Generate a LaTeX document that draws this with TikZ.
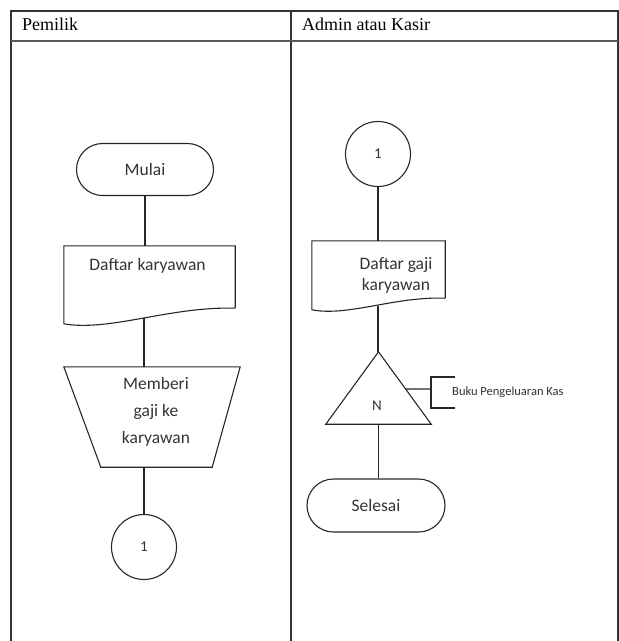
\documentclass[tikz,border=0pt]{standalone}
\usepackage{fontspec}
\setmainfont{Liberation Serif}
\newfontfamily\calib{Carlito}
\usetikzlibrary{shapes.misc,calc}
\begin{document}
\begin{tikzpicture}[x=1pt,y=-1pt,
  flowline/.style={draw=black!85, line width=1.1pt},
  frame/.style={draw=black!80, line width=1.6pt},
  head/.style={font=\fontsize{18}{20}\selectfont, text=black, inner sep=0pt, anchor=base west},
  lbl/.style={font=\calib\fontsize{17.5}{21}\selectfont, text=black!80, inner sep=0pt, align=center},
  term/.style={rounded rectangle, flowline, minimum width=137pt, minimum height=52pt, inner sep=0pt, lbl},
  conn/.style={circle, flowline, minimum size=65pt, inner sep=0pt, font=\calib\fontsize{15}{16}\selectfont, text=black!80},
  area/.style={inner sep=0pt, draw=none},
]
\useasboundingbox (0,0) rectangle (619,641);

% swimlane table
\draw[frame] (11,641) -- (11,11) -- (618,11) -- (618,641);
\draw[frame] (291,11) -- (291,641);
\draw[frame, draw=black!65] (11,41) -- (618,41);
\node[head] (hpemilik) at (22,30) {Pemilik};
\node[head] (hadmin) at (302,30) {Admin atau Kasir};

% owner lane
\node[term] (mulai) at (145,169.5) {Mulai};

\node[area, minimum width=171pt, minimum height=62pt] (dk) at (149.5,277) {};
\draw[flowline] (dk.south east) -- (dk.north east) -- (dk.north west) -- ++(0,78)
  .. controls +(46,8) and +(-65,-2) .. (dk.south east);
\node[lbl, anchor=base] (dkt) at (147.5,270) {Daftar karyawan};
\coordinate (dkb) at (144,318);

\node[area, minimum width=176pt, minimum height=100pt] (tz) at (152,417) {};
\draw[flowline] (tz.north west) -- (tz.north east) -- ($(tz.south east)+(-28,0)$)
  -- ($(tz.south west)+(37,0)$) -- cycle;
\node[lbl, font=\calib\fontsize{17.5}{27}\selectfont] (tzt) at (156,412) {Memberi\\gaji ke\\karyawan};

\node[conn] (c1) at (144,547) {1};

\draw[flowline] (mulai.south) -- (mulai.south |- dk.north);
\draw[flowline] (dkb) -- (dkb |- tz.north);
\draw[flowline] (c1.north |- tz.south) -- (c1.north);

% admin / cashier lane
\node[conn] (c2) at (378,154) {1};

\node[area, minimum width=133pt, minimum height=57pt] (dg) at (378.5,269.5) {};
\draw[flowline] (dg.south east) -- (dg.north east) -- (dg.north west) -- ++(0,69)
  .. controls +(36,7) and +(-50,-2) .. (dg.south east);
\node[lbl] (dgt) at (396,275) {Daftar gaji\\karyawan};
\coordinate (dgb) at (378,305.5);

\node[area, minimum width=105pt, minimum height=72pt] (tri) at (378.5,388) {};
\draw[flowline] (tri.north) -- (tri.south east) -- (tri.south west) -- cycle;
\node[lbl, font=\calib\fontsize{15}{16}\selectfont, anchor=base] (trin) at (377,410.7) {N};

\coordinate (tris) at ($(tri.north)!0.514!(tri.south east)$);
\coordinate (brk) at (431,389);
\coordinate (brkt) at (455,377);
\coordinate (brkb) at (455,408);
\draw[flowline] (tris) -- (brk);
\draw[flowline] (brkt) -- (brkt -| brk) -- (brkb -| brk) -- (brkb);
\node[font=\calib\fontsize{12.5}{14}\selectfont, text=black!80, inner sep=0pt, anchor=base west] (bkas) at (452,395.7) {Buku Pengeluaran Kas};

\node[term, minimum width=138pt, minimum height=53pt] (selesai) at (376,505.5) {Selesai};

\draw[flowline] (c2.south) -- (c2.south |- dg.north);
\draw[flowline] (dgb) -- (dgb |- tri.north);
\draw[flowline] (tri.south) -- (tri.south |- selesai.north);
\end{tikzpicture}
\end{document}
